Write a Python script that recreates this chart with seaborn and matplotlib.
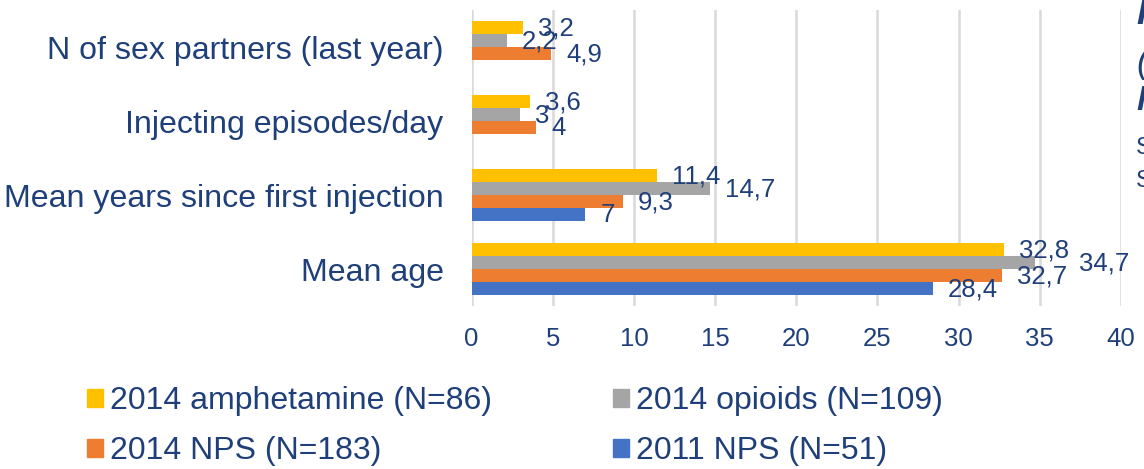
import pandas as pd
import matplotlib
matplotlib.use("Agg")
import matplotlib.pyplot as plt
import matplotlib.patches as mpatches
import seaborn as sns

# chart data
measures = ["N of sex partners (last year)", "Injecting episodes/day",
            "Mean years since first injection", "Mean age"]
groups = ["2014 amphetamine (N=86)", "2014 opioids (N=109)",
          "2014 NPS (N=183)", "2011 NPS (N=51)"]
amphetamine_2014 = [3.2, 3.6, 11.4, 32.8]
opioids_2014 = [2.2, 3.0, 14.7, 34.7]
nps_2014 = [4.9, 4.0, 9.3, 32.7]
nps_2011 = [None, None, 7.0, 28.4]
ticks = [0, 5, 10, 15, 20, 25, 30, 35, 40]

colors = ["#FFC000", "#A5A5A5", "#ED7D31", "#4472C4"]
text_color = "#1F3F7A"

# long table for seaborn
rows = []
for g, vals in zip(groups, [amphetamine_2014, opioids_2014, nps_2014, nps_2011]):
    for m, v in zip(measures, vals):
        rows.append({"measure": m, "group": g, "value": v})
df = pd.DataFrame(rows)
df["value"] = df["value"].astype(float)

sns.set_style("white")
plt.rcParams["font.family"] = ["Liberation Sans", "DejaVu Sans"]

fig = plt.figure(figsize=(11.44, 4.69), dpi=100)
ax = fig.add_axes([471.5 / 1144, 1 - 306 / 469, (1121 - 471.5) / 1144, 296 / 469])

sns.barplot(data=df, x="value", y="measure", hue="group", order=measures,
            hue_order=groups, palette=colors, saturation=1, orient="h", width=0.7,
            errorbar=None, linewidth=0, legend=False, ax=ax)

ax.set_xlim(0, 40)
ax.set_ylim(3.5, -0.5)
ax.set_xticks(ticks)
ax.set_xlabel("")
ax.set_ylabel("")
ax.grid(axis="x", color="#D9D9D9", linewidth=1.8)
ax.set_axisbelow(True)
for s in ax.spines.values():
    s.set_visible(False)
ax.tick_params(axis="y", length=0, pad=20, labelsize=23.1, labelcolor=text_color)
ax.tick_params(axis="x", length=0, pad=15, labelsize=18.5, labelcolor=text_color)

# value labels (offset in pixels from bar end)
special_offset = {34.7: 44}
for bar in ax.patches:
    w = bar.get_width()
    if bar.get_height() == 0 or pd.isna(w) or w == 0:
        continue
    y = bar.get_y() + bar.get_height() / 2
    lab = f"{w:g}".replace(".", ",")
    off = special_offset.get(round(w, 1), 15)
    ax.annotate(lab, xy=(w, y), xytext=(off, -1), textcoords="offset pixels",
                ha="left", va="center", fontsize=18.5, color=text_color,
                annotation_clip=False)

# legend, two rows
handles = [mpatches.Patch(color=c, label=g) for c, g in zip(colors, groups)]
order = [0, 2, 1, 3]
fig.legend([handles[i] for i in order], [groups[i] for i in order],
           ncol=2, loc="upper left", bbox_to_anchor=(87 / 1144, 1 - 386 / 469),
           frameon=False, fontsize=23, labelcolor=text_color,
           handlelength=0.5, handleheight=0.5, handletextpad=0.22,
           columnspacing=3.8, labelspacing=0.64, borderpad=0, borderaxespad=0)

# clipped text box at the right edge
fig.text(1136 / 1144, 1 - 14 / 469, "R", fontsize=25, style="italic", weight="bold", color=text_color, va="center")
fig.text(1136 / 1144, 1 - 63 / 469, "(", fontsize=25, style="italic", color=text_color, va="center")
fig.text(1136 / 1144, 1 - 100 / 469, "N", fontsize=25, style="italic", weight="bold", color=text_color, va="center")
fig.text(1136 / 1144, 1 - 148 / 469, "S", fontsize=17, color=text_color, va="center")
fig.text(1136 / 1144, 1 - 181 / 469, "S", fontsize=17, color=text_color, va="center")

fig.savefig("out.png", dpi=100)
